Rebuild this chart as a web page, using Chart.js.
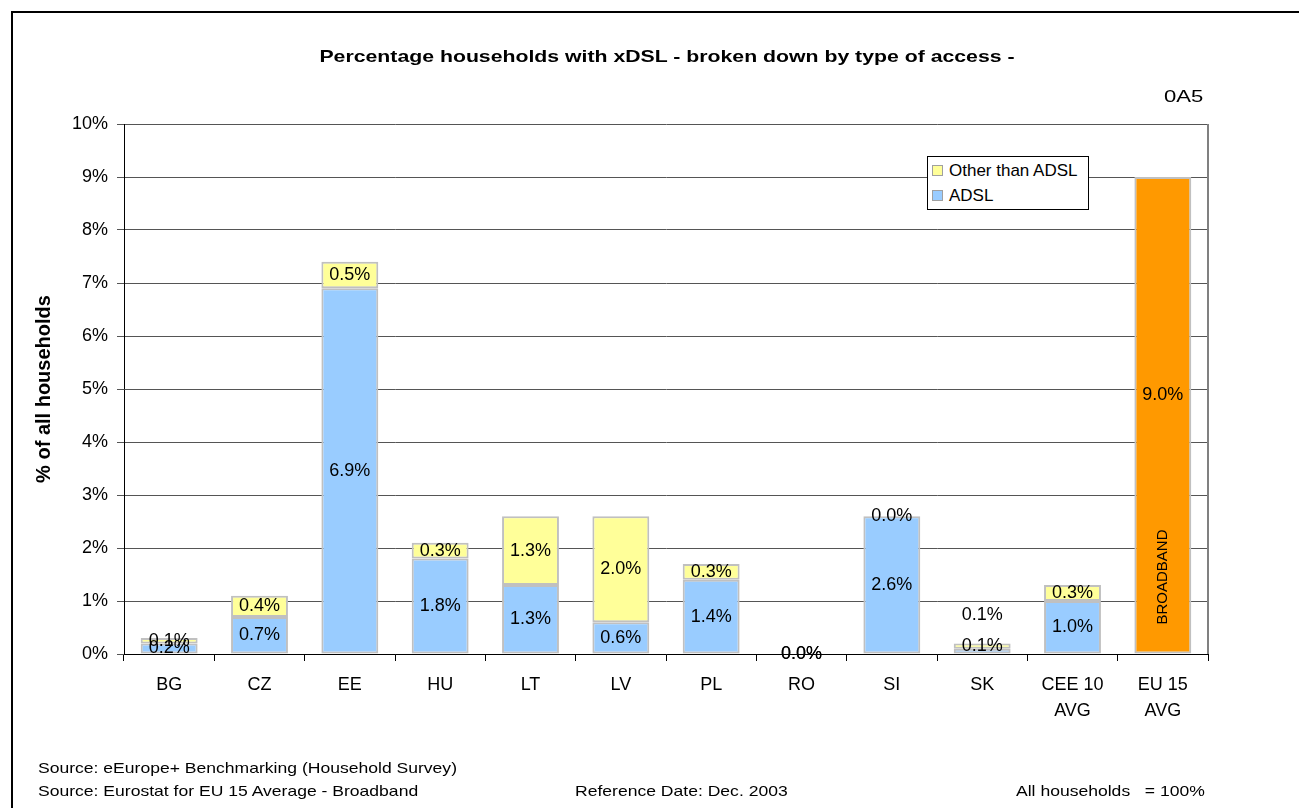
<!DOCTYPE html>
<html lang="en">
<head>
  <meta charset="UTF-8">
  <title>Percentage households with xDSL</title>
  <script src="https://cdn.jsdelivr.net/npm/chart.js"></script>
  <style>
    body {
      margin: 0;
      width: 1299px;
      height: 808px;
      overflow: hidden;
      background: #fff;
      font-family: "Liberation Sans", Arial, sans-serif;
      color: #000;
    }
    #frame {
      position: absolute;
      left: 11px;
      top: 11px;
      width: 1400px;
      height: 900px;
      border: 2px solid #000;
    }
    #chart {
      position: absolute;
      left: 0;
      top: 0;
    }
    .txt {
      position: absolute;
      white-space: pre;
    }
    #title {
      left: 0;
      width: 1334px;
      top: 47px;
      text-align: center;
      font-weight: bold;
      font-size: 17px;
      transform: scaleX(1.25);
      transform-origin: 667px 0;
    }
    #code {
      right: 96px;
      top: 87px;
      font-size: 17px;
      transform: scaleX(1.3);
      transform-origin: right top;
    }
    .foot {
      font-size: 15px;
      transform: scaleX(1.17);
      transform-origin: left top;
    }
    #legend {
      position: absolute;
      left: 927px;
      top: 156px;
      width: 160px;
      height: 52px;
      border: 1px solid #000;
      background: #fff;
      font-size: 17px;
    }
    #legend div {
      position: absolute;
      left: 4px;
      line-height: 18px;
    }
    #legend span {
      display: inline-block;
      width: 9px;
      height: 9px;
      border: 1px solid #a0a0a0;
      margin-right: 6px;
    }
  </style>
</head>
<body>
  <div id="frame"></div>
  <canvas id="chart" width="1299" height="808"></canvas>

  <div class="txt" id="title">Percentage households with xDSL - broken down by type of access -</div>
  <div class="txt" id="code">0A5</div>
  <div id="legend"></div>

  <div class="txt foot" style="left:38px; top:759px;">Source: eEurope+ Benchmarking (Household Survey)</div>
  <div class="txt foot" style="left:38px; top:782px;">Source: Eurostat for EU 15 Average - Broadband</div>
  <div class="txt foot" style="left:575px; top:782px;">Reference Date: Dec. 2003</div>
  <div class="txt foot" style="left:1016px; top:782px;">All households   = 100%</div>

  <script>
    // ---------------- Data ---------------- //
    const countries = ['BG', 'CZ', 'EE', 'HU', 'LT', 'LV', 'PL', 'RO', 'SI', 'SK', ['CEE 10', 'AVG'], ['EU 15', 'AVG']];
    const adsl      = [0.2, 0.7, 6.9, 1.8, 1.3, 0.6, 1.4, 0.0, 2.6, 0.1, 1.0, null];
    const otherDsl  = [0.1, 0.4, 0.5, 0.3, 1.3, 2.0, 0.3, 0.0, 0.0, 0.1, 0.3, null];
    const broadband = [null, null, null, null, null, null, null, null, null, null, null, 9.0];
    const yTicks    = [0, 1, 2, 3, 4, 5, 6, 7, 8, 9, 10];

    // a couple of value labels sit off their segment centre
    const labelShift = { 'ADSL-9': -36, 'Broadband-11': -20 };

    Chart.defaults.font.family = '"Liberation Sans", Arial, sans-serif';
    Chart.defaults.color = '#000';

    // value labels, plot frame and the BROADBAND caption
    const barText = {
      id: 'barText',
      afterDatasetsDraw(chart) {
        const ctx = chart.ctx;
        const area = chart.chartArea;
        ctx.save();

        ctx.strokeStyle = '#808080';
        ctx.lineWidth = 2;
        ctx.beginPath();
        ctx.moveTo(area.right, area.top);
        ctx.lineTo(area.right, area.bottom);
        ctx.stroke();

        ctx.fillStyle = '#000';
        ctx.font = '18px "Liberation Sans", Arial, sans-serif';
        ctx.textAlign = 'center';
        ctx.textBaseline = 'middle';
        chart.data.datasets.forEach((ds, di) => {
          const meta = chart.getDatasetMeta(di);
          meta.data.forEach((bar, i) => {
            const v = ds.data[i];
            if (v === null || v === undefined) return;
            const shift = labelShift[ds.label + '-' + i] || 0;
            const y = (bar.y + bar.base) / 2 + shift;
            ctx.fillText(v.toFixed(1) + '%', bar.x, y);
            if (ds.label === 'Broadband') {
              ctx.save();
              ctx.font = '15px "Liberation Sans", Arial, sans-serif';
              ctx.translate(bar.x, bar.base - 29);
              ctx.rotate(-Math.PI / 2);
              ctx.textAlign = 'left';
              ctx.fillText('BROADBAND', 0, 0);
              ctx.restore();
            }
          });
        });
        ctx.restore();
      }
    };

    const chart = new Chart(document.getElementById('chart'), {
      type: 'bar',
      data: {
        labels: countries,
        datasets: [
          { label: 'ADSL', data: adsl, backgroundColor: '#99CCFF' },
          { label: 'Other than ADSL', data: otherDsl, backgroundColor: '#FFFF99' },
          { label: 'Broadband', data: broadband, backgroundColor: '#FF9900' }
        ]
      },
      options: {
        responsive: false,
        devicePixelRatio: 1,
        animation: false,
        layout: { padding: { left: 14, top: 124, right: 91, bottom: 74 } },
        datasets: {
          bar: {
            borderColor: '#C0C0C0',
            borderWidth: 2,
            borderSkipped: false,
            barPercentage: 0.63,
            categoryPercentage: 1
          }
        },
        plugins: {
          legend: { display: false },
          tooltip: { enabled: false }
        },
        scales: {
          x: {
            stacked: true,
            afterFit(scale) { scale.height = 80; },
            grid: { offset: true, drawOnChartArea: false, tickLength: 7, color: '#000' },
            border: { color: '#000', width: 1 },
            ticks: { font: { size: 18, lineHeight: 1.45 }, padding: 11, maxRotation: 0, autoSkip: false }
          },
          y: {
            stacked: true,
            min: 0,
            max: 10,
            afterFit(scale) { scale.width = 110; },
            afterBuildTicks(scale) { scale.ticks = yTicks.map(v => ({ value: v })); },
            grid: { tickLength: 7, color: '#555' },
            border: { color: '#000', width: 1 },
            ticks: { font: { size: 18 }, padding: 9, callback: v => v + '%' },
            title: {
              display: true,
              text: '% of all households',
              font: { size: 20, weight: 'bold' },
              padding: { top: 18, bottom: 0 }
            }
          }
        }
      },
      plugins: [barText]
    });

    // legend box, top entry first as in a stacked column key
    const legendBox = document.getElementById('legend');
    chart.data.datasets.filter(ds => ds.label !== 'Broadband').reverse().forEach((ds, k) => {
      const row = document.createElement('div');
      row.style.top = (5 + k * 25) + 'px';
      row.innerHTML = '<span style="background:' + ds.backgroundColor + '"></span>' + ds.label;
      legendBox.appendChild(row);
    });
  </script>
</body>
</html>
